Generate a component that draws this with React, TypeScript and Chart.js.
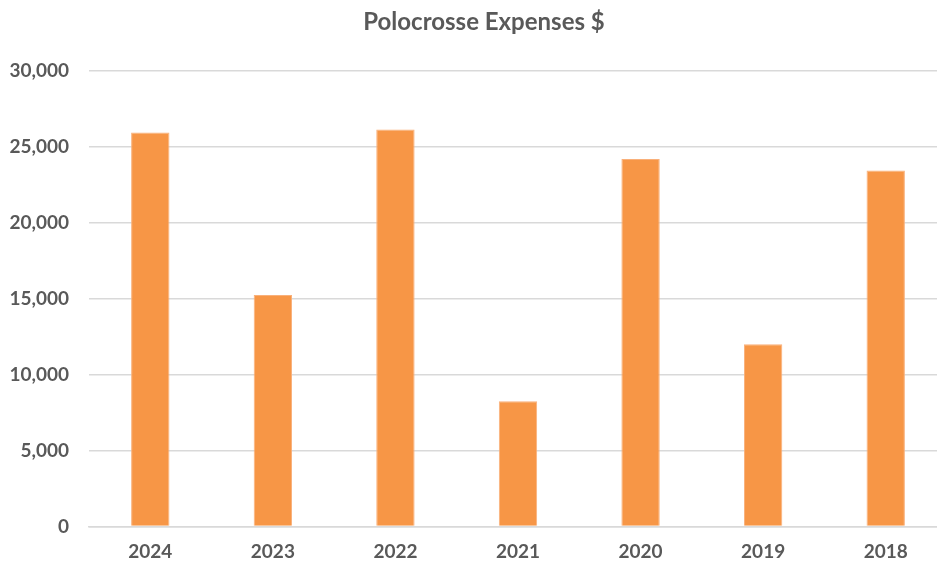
import React, { useEffect, useRef } from "react";
import { Chart, registerables } from "chart.js";

Chart.register(...registerables);

const categories: string[] = ["2024", "2023", "2022", "2021", "2020", "2019", "2018"];
const expenses: number[] = [25950, 15250, 26150, 8250, 24200, 12000, 23450];
const titleText = "Polocrosse Expenses $";
const yMin = 0;
const yMax = 30000;
const yStep = 5000;

const FONT = "Lato, 'Open Sans', 'DejaVu Sans', sans-serif";
const TEXT = "#595959";

export default function App() {
  const ref = useRef<HTMLCanvasElement | null>(null);

  useEffect(() => {
    if (!ref.current) return;
    const chart = new Chart(ref.current, {
      type: "bar",
      data: {
        labels: categories,
        datasets: [
          {
            label: "Expenses",
            data: expenses,
            backgroundColor: "#F79646",
            borderColor: "#F9B07A",
            borderWidth: 1,
            categoryPercentage: 1,
            barPercentage: 0.313,
          },
        ],
      },
      options: {
        animation: false,
        responsive: false,
        maintainAspectRatio: false,
        layout: { padding: { left: 0, right: 0, top: 0, bottom: 0 } },
        plugins: {
          legend: { display: false },
          tooltip: { enabled: false },
          title: {
            display: true,
            text: titleText,
            color: TEXT,
            font: { family: FONT, size: 24, weight: "bold" },
            padding: { top: 7.6, bottom: 34.6 },
          },
        },
        scales: {
          x: {
            grid: { display: false, drawTicks: false },
            border: { display: true, color: "#D9D9D9", width: 1.5 },
            ticks: {
              color: TEXT,
              font: { family: FONT, size: 19, weight: "bold" },
              padding: 14,
              maxRotation: 0,
            },
            afterFit: (scale: any) => {
              scale.height = 36.5;
            },
          },
          y: {
            min: yMin,
            max: yMax,
            grid: { color: "#D9D9D9", lineWidth: 1.5, drawTicks: false },
            border: { display: false },
            ticks: {
              stepSize: yStep,
              color: TEXT,
              font: { family: FONT, size: 19, weight: "bold" },
              padding: 20,
              callback: (v: any) => Number(v).toLocaleString("en-US"),
            },
            afterFit: (scale: any) => {
              scale.width = 89;
            },
          },
          yRight: {
            position: "right",
            min: yMin,
            max: yMax,
            grid: { display: false, drawTicks: false },
            border: { display: false },
            ticks: { display: false },
            afterFit: (scale: any) => {
              scale.width = 21;
            },
          },
        },
      },
    });
    return () => chart.destroy();
  }, []);

  return (
    <div
      style={{
        position: "absolute",
        left: 0,
        top: 0,
        width: 937,
        height: 563,
        overflow: "hidden",
        background: "#ffffff",
      }}
    >
      <canvas ref={ref} width={968} height={563} style={{ display: "block", width: 968, height: 563 }} />
    </div>
  );
}
